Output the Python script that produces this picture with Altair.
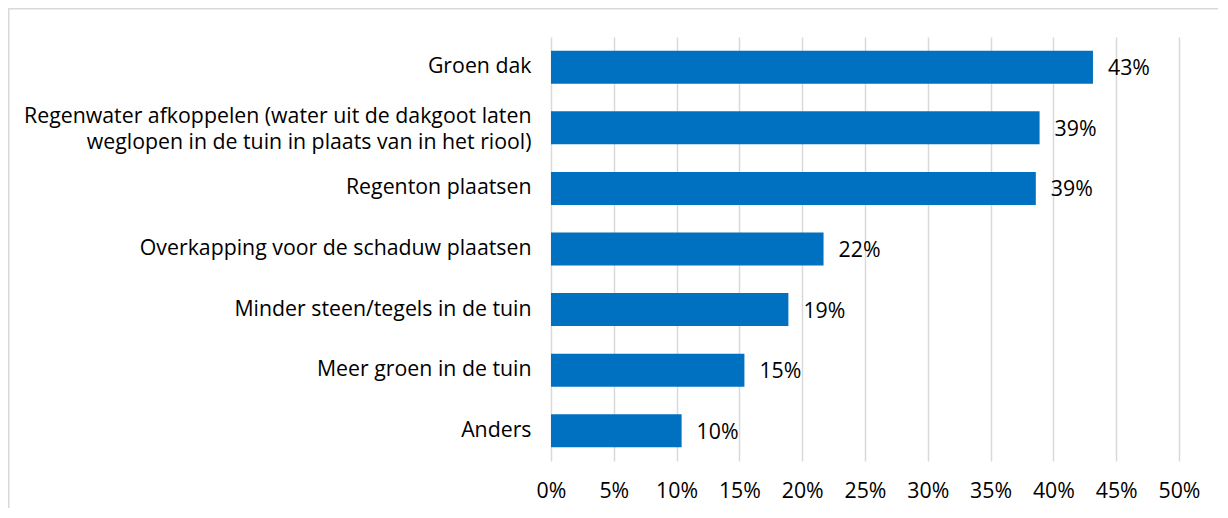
import altair as alt
import pandas as pd

categories = [
    "Groen dak",
    "Regenwater afkoppelen (water uit de dakgoot laten|weglopen in de tuin in plaats van in het riool)",
    "Regenton plaatsen",
    "Overkapping voor de schaduw plaatsen",
    "Minder steen/tegels in de tuin",
    "Meer groen in de tuin",
    "Anders",
]
values = [0.4315, 0.389, 0.386, 0.217, 0.189, 0.154, 0.104]
tick_values = [0, 0.05, 0.10, 0.15, 0.20, 0.25, 0.30, 0.35, 0.40, 0.45, 0.50]

df = pd.DataFrame({"cat": categories, "val": values})

FONT = "Open Sans"
FS = 21.3
W, H = 628, 424
PL, PT = 543, 29

y_enc = alt.Y(
    "cat:N",
    sort=categories,
    title=None,
    scale=alt.Scale(paddingInner=0.455, paddingOuter=0.2275),
    axis=alt.Axis(
        labelExpr="split(datum.label, '|')",
        labelFont=FONT,
        labelFontSize=FS,
        labelColor="#000000",
        labelLineHeight=26.5,
        labelPadding=20,
        labelOffset={"condition": {"test": "indexof(datum.value, '|') >= 0", "value": -11}, "value": 0},
        ticks=False,
        domain=False,
        labelLimit=600,
    ),
)
x_enc = alt.X(
    "val:Q",
    title=None,
    scale=alt.Scale(domain=[0, 0.5], nice=False),
    axis=alt.Axis(
        values=tick_values,
        format=".0%",
        grid=True,
        gridColor="#d9d9d9",
        gridWidth=1.5,
        ticks=False,
        domain=False,
        labelFlush=False,
        labelFont=FONT,
        labelFontSize=FS,
        labelColor="#000000",
        labelPadding=19,
    ),
)

base = alt.Chart(df)
bars = base.mark_bar(color="#0070C0").encode(x=x_enc, y=y_enc)
labels = base.mark_text(
    align="left", baseline="middle", dx=15, dy=2, font=FONT, fontSize=FS, color="#000000"
).encode(
    x=alt.X("val:Q"),
    y=alt.Y("cat:N", sort=categories),
    text=alt.Text("val:Q", format=".0%"),
)

frame = alt.Chart(pd.DataFrame({"a": [0]})).mark_rect(
    fill=None, stroke="#d9d9d9", strokeWidth=1.5
).encode(
    x=alt.value(-PL + 0.75),
    y=alt.value(-PT + 0.75),
    x2=alt.value(W + 500),
    y2=alt.value(H + 500),
)

chart = (
    alt.layer(frame, bars, labels)
    .properties(
        width=W,
        height=H,
        autosize=alt.AutoSizeParams(type="none"),
        padding={"left": PL, "top": PT, "right": 1210 - PL - W, "bottom": 500 - PT - H},
    )
    .configure_view(stroke=None)
)

chart.save("out.html", embed_options={"renderer": "svg", "actions": False})
